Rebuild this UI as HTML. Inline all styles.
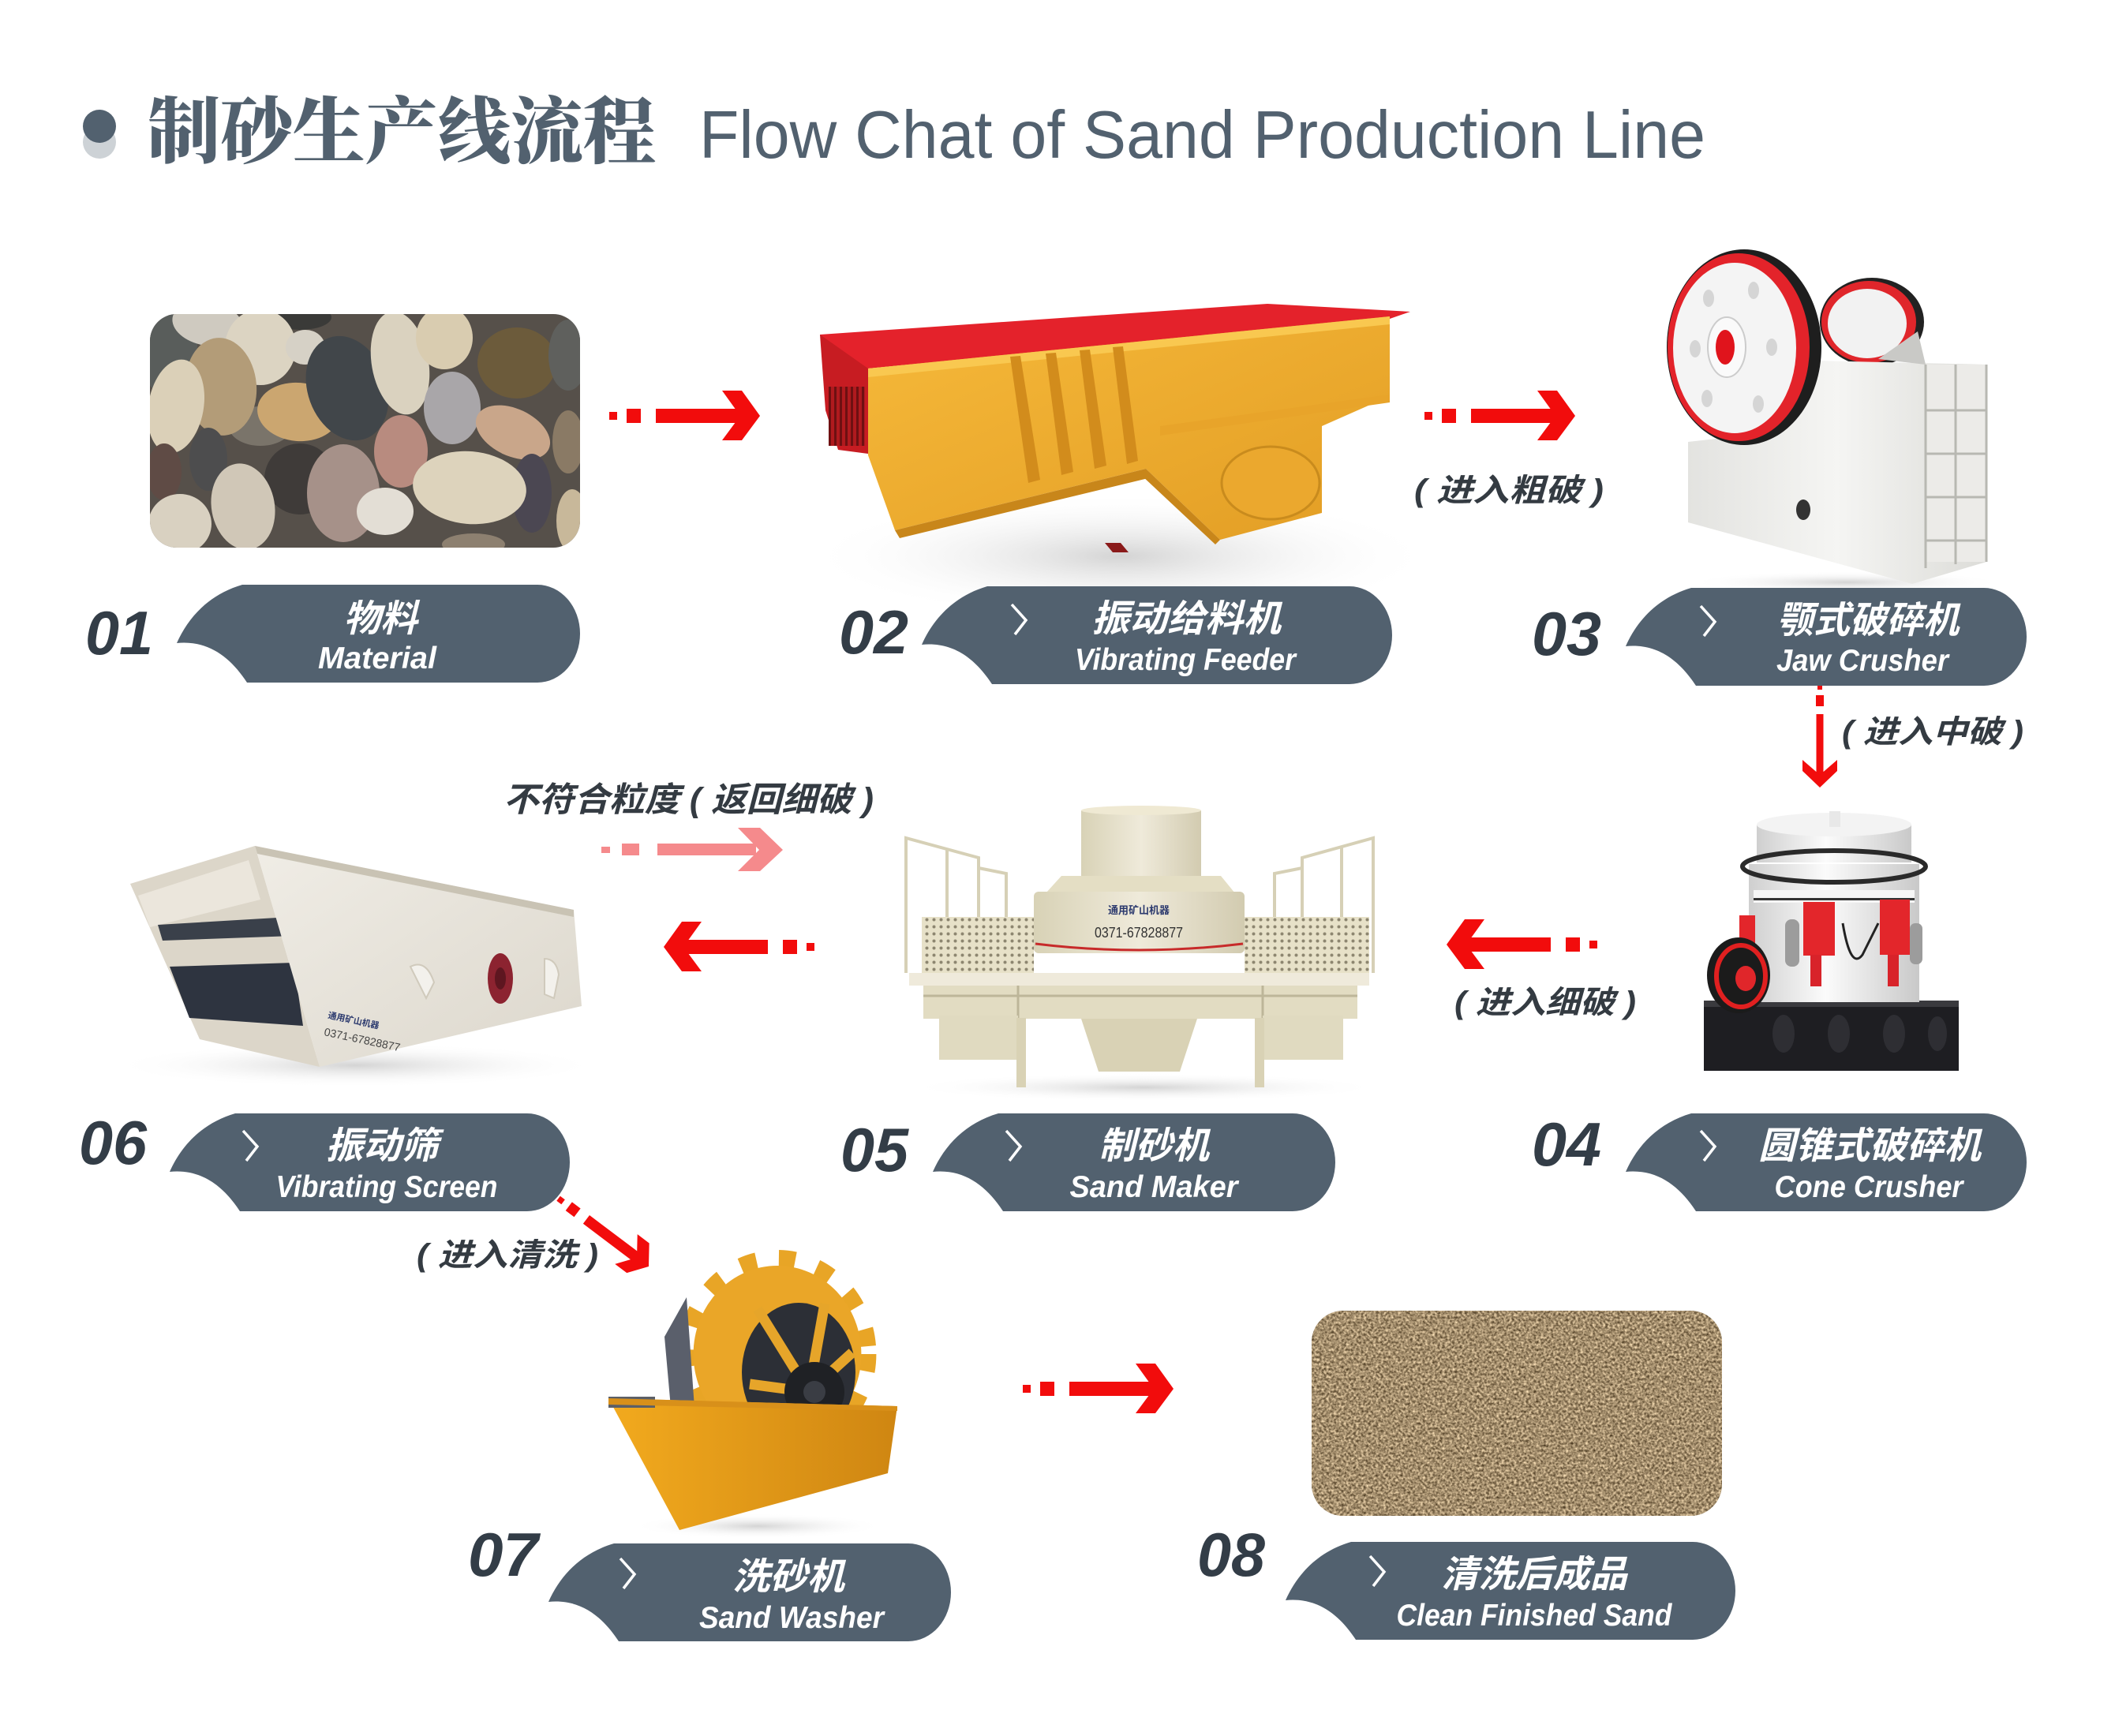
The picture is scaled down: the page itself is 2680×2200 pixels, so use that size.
<!DOCTYPE html>
<html><head><meta charset="utf-8"><title>Flow Chat of Sand Production Line</title>
<style>
html,body{margin:0;padding:0;background:#fff;}
svg{display:block;}
.cn{font-family:"Liberation Sans","Noto Sans CJK SC",sans-serif;}
</style></head>
<body>
<svg xmlns="http://www.w3.org/2000/svg" width="2680" height="2200" viewBox="0 0 2680 2200">
<defs>
  <g id="arR" fill="#f20c0c">
    <rect x="-191" y="-5" width="10" height="10"/>
    <rect x="-169" y="-9" width="18" height="18"/>
    <rect x="-132" y="-9" width="110" height="18"/>
    <polygon points="-48,-32 -23,-32 0,0 -23,31 -48,31 -25,0"/>
  </g>
  <g id="arP" fill="#f58a8c">
    <rect x="-230" y="-4" width="11" height="8"/>
    <rect x="-204" y="-8" width="22" height="15"/>
    <rect x="-159" y="-8" width="125" height="15"/>
    <polygon points="-57,-28 -29,-28 0,0 -29,27 -57,27 -30,0"/>
  </g>
  <clipPath id="cpPeb"><rect x="190" y="398" width="545" height="296" rx="34"/></clipPath>
  <clipPath id="cpSand"><rect x="1662" y="1661" width="520" height="260" rx="40"/></clipPath>
  <filter id="sandf" x="0" y="0" width="100%" height="100%" color-interpolation-filters="sRGB">
    <feTurbulence type="fractalNoise" baseFrequency="0.32" numOctaves="2" seed="7" result="n"/>
    <feColorMatrix in="n" type="matrix" values="1.0 0 0 0 0.14  0.95 0 0 0 0.08  0.85 0 0 0 0.0  0 0 0 0 1"/>
  </filter>
  <linearGradient id="yelG" x1="0" y1="0" x2="1" y2="1">
    <stop offset="0" stop-color="#f6b93a"/><stop offset="1" stop-color="#e29d24"/>
  </linearGradient>
  <linearGradient id="tankG" x1="0" y1="0" x2="1" y2="0">
    <stop offset="0" stop-color="#f2aa1e"/><stop offset="1" stop-color="#cf8612"/>
  </linearGradient>
  <linearGradient id="whiteG" x1="0" y1="0" x2="1" y2="0">
    <stop offset="0" stop-color="#e3e3e0"/><stop offset="0.5" stop-color="#f5f5f3"/><stop offset="1" stop-color="#dcdcd8"/>
  </linearGradient>
  <linearGradient id="coneG" x1="0" y1="0" x2="1" y2="0">
    <stop offset="0" stop-color="#cfcfcf"/><stop offset="0.45" stop-color="#fbfbfb"/><stop offset="1" stop-color="#c9c9c9"/>
  </linearGradient>
  <linearGradient id="creamG" x1="0" y1="0" x2="1" y2="0">
    <stop offset="0" stop-color="#d8d2b6"/><stop offset="0.5" stop-color="#efeada"/><stop offset="1" stop-color="#d2cbb0"/>
  </linearGradient>
  <linearGradient id="plateG" x1="0" y1="0" x2="1" y2="1">
    <stop offset="0" stop-color="#f0ede6"/><stop offset="1" stop-color="#dcd7cc"/>
  </linearGradient>
  <radialGradient id="shG">
    <stop offset="0" stop-color="#cfcfcf" stop-opacity="0.9"/><stop offset="1" stop-color="#ffffff" stop-opacity="0"/>
  </radialGradient>
  <pattern id="mesh" width="9" height="9" patternUnits="userSpaceOnUse">
    <rect width="9" height="9" fill="#e7e1c8"/><circle cx="4.5" cy="4.5" r="2" fill="#8d8670"/>
  </pattern>
  <pattern id="grid" width="7" height="10" patternUnits="userSpaceOnUse">
    <rect width="7" height="10" fill="#b01a1e"/><rect width="3" height="10" fill="#6e1012"/>
  </pattern>
</defs>

<rect width="2680" height="2200" fill="#ffffff"/>

<!-- ============ TITLE ============ -->
<circle cx="126" cy="180" r="21" fill="#cdd2d6"/>
<circle cx="126" cy="160" r="21" fill="#52616f"/>
<text x="187" y="199" font-family="'Noto Serif CJK SC','Noto Serif CJK JP',serif" font-weight="900" font-size="92" fill="#52616f" textLength="644" lengthAdjust="spacingAndGlyphs">制砂生产线流程</text>
<text x="886" y="200" font-family="'Liberation Sans',sans-serif" font-size="85" fill="#52616f" textLength="1275" lengthAdjust="spacingAndGlyphs">Flow Chat of Sand Production Line</text>

<!-- ============ IMAGE 01 PEBBLES ============ -->
<g clip-path="url(#cpPeb)">
  <rect x="190" y="398" width="545" height="296" fill="#56504a"/>
  <ellipse cx="212" cy="440" rx="38" ry="60" fill="#595d5b"/>
  <ellipse cx="263" cy="410" rx="45" ry="28" fill="#cfcac0" transform="rotate(10 263 410)"/>
  <ellipse cx="380" cy="402" rx="40" ry="16" fill="#3a3a38"/>
  <ellipse cx="330" cy="440" rx="45" ry="48" fill="#dcd4c2"/>
  <ellipse cx="387" cy="440" rx="25" ry="22" fill="#d6d1c6"/>
  <ellipse cx="330" cy="540" rx="40" ry="25" fill="#7a746a"/>
  <ellipse cx="280" cy="490" rx="45" ry="62" fill="#b39c78" transform="rotate(-5 280 490)"/>
  <ellipse cx="223" cy="515" rx="35" ry="60" fill="#dbd0b8" transform="rotate(10 223 515)"/>
  <ellipse cx="378" cy="522" rx="52" ry="37" fill="#cba670" transform="rotate(5 378 522)"/>
  <ellipse cx="440" cy="492" rx="50" ry="68" fill="#41464a" transform="rotate(-20 440 492)"/>
  <ellipse cx="507" cy="460" rx="36" ry="66" fill="#dad2bf" transform="rotate(-10 507 460)"/>
  <ellipse cx="563" cy="428" rx="36" ry="40" fill="#d9ccb0"/>
  <ellipse cx="573" cy="517" rx="36" ry="46" fill="#a9a6a9"/>
  <ellipse cx="655" cy="460" rx="50" ry="45" fill="#6c5b3b"/>
  <ellipse cx="720" cy="450" rx="25" ry="45" fill="#5f605d"/>
  <ellipse cx="650" cy="548" rx="50" ry="30" fill="#c9a68a" transform="rotate(25 650 548)"/>
  <ellipse cx="720" cy="560" rx="20" ry="40" fill="#8a7a65"/>
  <ellipse cx="508" cy="572" rx="34" ry="46" fill="#b88b7f"/>
  <ellipse cx="380" cy="607" rx="45" ry="45" fill="#3f3b39"/>
  <ellipse cx="435" cy="625" rx="46" ry="62" fill="#a69189"/>
  <ellipse cx="264" cy="582" rx="24" ry="40" fill="#4d4d4e"/>
  <ellipse cx="208" cy="598" rx="22" ry="36" fill="#5f4b45"/>
  <ellipse cx="228" cy="664" rx="40" ry="38" fill="#d9d1c1"/>
  <ellipse cx="308" cy="642" rx="40" ry="55" fill="#d0c7b7" transform="rotate(-10 308 642)"/>
  <ellipse cx="488" cy="648" rx="36" ry="30" fill="#e3ded5"/>
  <ellipse cx="674" cy="625" rx="25" ry="50" fill="#4b4752"/>
  <ellipse cx="595" cy="618" rx="72" ry="46" fill="#ddd3bc" transform="rotate(5 595 618)"/>
  <ellipse cx="725" cy="660" rx="20" ry="40" fill="#c8b89a"/>
  <ellipse cx="600" cy="690" rx="40" ry="14" fill="#8d8070"/>
</g>

<!-- ============ IMAGE 02 VIBRATING FEEDER ============ -->
<g>
  <ellipse cx="1420" cy="705" rx="400" ry="80" fill="url(#shG)"/>
  <polygon points="1039,424 1606,385 1787,395 1761,404 1100,467 1065,459" fill="#e4222b"/>
  <polygon points="1039,424 1100,467 1100,575 1062,570 1046,520" fill="#c71c22"/>
  <rect x="1050" y="490" width="46" height="75" fill="url(#grid)"/>
  <polygon points="1100,467 1761,401 1761,502 1675,540 1675,650 1546,684 1452,594 1134,672 1100,577" fill="url(#yelG)"/>
  <polygon points="1100,467 1761,401 1761,411 1100,478" fill="#f9c850"/>
  <polygon points="1280,452 1293,451 1318,608 1303,612" fill="#d28c1c"/>
  <polygon points="1325,448 1338,447 1360,598 1345,602" fill="#d28c1c"/>
  <polygon points="1368,444 1381,443 1402,590 1387,594" fill="#d28c1c"/>
  <polygon points="1410,440 1423,439 1442,584 1428,588" fill="#d28c1c"/>
  <polygon points="1134,672 1452,594 1455,606 1140,682" fill="#c8861a"/>
  <polygon points="1452,594 1546,684 1540,690 1446,602" fill="#c8861a"/>
  <polygon points="1470,540 1761,500 1761,510 1470,552" fill="#e8a42a"/>
  <ellipse cx="1610" cy="612" rx="62" ry="46" fill="#eba82e" stroke="#c98b1d" stroke-width="3"/>
  <polygon points="1400,688 1420,688 1430,700 1410,700" fill="#8a1a1a"/>
</g>

<!-- ============ IMAGE 03 JAW CRUSHER ============ -->
<g>
  <ellipse cx="2340" cy="738" rx="200" ry="14" fill="url(#shG)"/>
  <ellipse cx="2372" cy="408" rx="66" ry="56" fill="#222"/>
  <ellipse cx="2368" cy="408" rx="60" ry="52" fill="#e0262b"/>
  <ellipse cx="2366" cy="410" rx="50" ry="44" fill="#f2f2f2"/>
  <polygon points="2250,456 2517,462 2517,712 2423,740 2139,662 2139,560 2245,548" fill="url(#whiteG)"/>
  <rect x="2440" y="462" width="77" height="250" fill="#ecebe8"/>
  <g stroke="#b8b8b2" stroke-width="3">
    <line x1="2440" y1="462" x2="2440" y2="720"/>
    <line x1="2478" y1="462" x2="2478" y2="715"/>
    <line x1="2517" y1="462" x2="2517" y2="712"/>
    <line x1="2440" y1="520" x2="2517" y2="520"/>
    <line x1="2440" y1="575" x2="2517" y2="575"/>
    <line x1="2440" y1="630" x2="2517" y2="630"/>
    <line x1="2440" y1="685" x2="2517" y2="685"/>
  </g>
  <polygon points="2380,455 2430,420 2440,462" fill="#c9c9c6"/>
  <ellipse cx="2285" cy="646" rx="9" ry="13" fill="#333"/>
  <ellipse cx="2210" cy="440" rx="98" ry="124" fill="#1e1e1e"/>
  <ellipse cx="2203" cy="440" rx="90" ry="119" fill="#e3232a"/>
  <ellipse cx="2198" cy="441" rx="78" ry="108" fill="#f4f4f4"/>
  <g fill="#d5d5d5">
    <ellipse cx="2165" cy="378" rx="7" ry="11"/>
    <ellipse cx="2163" cy="505" rx="7" ry="11"/>
    <ellipse cx="2222" cy="368" rx="7" ry="11"/>
    <ellipse cx="2228" cy="512" rx="7" ry="11"/>
    <ellipse cx="2148" cy="442" rx="7" ry="11"/>
    <ellipse cx="2245" cy="440" rx="7" ry="11"/>
  </g>
  <ellipse cx="2188" cy="440" rx="24" ry="38" fill="#fafafa" stroke="#cccccc" stroke-width="2"/>
  <ellipse cx="2186" cy="440" rx="12" ry="22" fill="#e0141c"/>
</g>

<!-- ============ IMAGE 04 CONE CRUSHER ============ -->
<g>
  <rect x="2159" y="1268" width="323" height="89" fill="#1e1e22"/>
  <rect x="2159" y="1268" width="323" height="8" fill="#3a3a3e"/>
  <g fill="#2e2e33">
    <ellipse cx="2260" cy="1310" rx="14" ry="24"/>
    <ellipse cx="2330" cy="1310" rx="14" ry="24"/>
    <ellipse cx="2400" cy="1310" rx="14" ry="24"/>
    <ellipse cx="2455" cy="1310" rx="12" ry="22"/>
  </g>
  <rect x="2216" y="1095" width="216" height="175" fill="url(#coneG)"/>
  <rect x="2226" y="1045" width="196" height="48" fill="url(#coneG)"/>
  <ellipse cx="2324" cy="1045" rx="98" ry="15" fill="#f3f3f3"/>
  <rect x="2318" y="1028" width="14" height="20" fill="#e8e8e8"/>
  <ellipse cx="2324" cy="1098" rx="116" ry="20" fill="none" stroke="#2a2a2a" stroke-width="6"/>
  <rect x="2222" y="1128" width="204" height="16" fill="#f6f6f6"/>
  <rect x="2222" y="1138" width="204" height="3" fill="#333"/>
  <rect x="2285" y="1143" width="40" height="68" fill="#e3262b"/>
  <rect x="2294" y="1210" width="14" height="40" fill="#d8232a"/>
  <rect x="2382" y="1140" width="38" height="70" fill="#e3262b"/>
  <rect x="2392" y="1210" width="14" height="40" fill="#d8232a"/>
  <rect x="2204" y="1160" width="20" height="40" fill="#e3262b"/>
  <rect x="2262" y="1165" width="18" height="60" rx="8" fill="#9c9c9c"/>
  <rect x="2420" y="1170" width="16" height="52" rx="7" fill="#9c9c9c"/>
  <path d="M2335,1170 q10,60 25,40 q10,-20 20,-40" fill="none" stroke="#222" stroke-width="3"/>
  <ellipse cx="2203" cy="1236" rx="40" ry="48" fill="#1b1b1b"/>
  <ellipse cx="2206" cy="1237" rx="31" ry="39" fill="none" stroke="#e02020" stroke-width="6"/>
  <ellipse cx="2212" cy="1240" rx="13" ry="16" fill="#e0262a"/>
</g>

<!-- ============ IMAGE 05 SAND MAKER ============ -->
<g>
  <ellipse cx="1450" cy="1378" rx="300" ry="18" fill="url(#shG)"/>
  <g stroke="#d6d0b6" stroke-width="4" fill="none">
    <polyline points="1148,1233 1148,1062 1240,1087 1240,1233"/>
    <line x1="1200" y1="1075" x2="1200" y2="1233"/>
    <polyline points="1240,1100 1275,1107 1275,1233"/>
    <polyline points="1740,1233 1740,1062 1650,1087 1650,1233"/>
    <line x1="1700" y1="1073" x2="1700" y2="1233"/>
    <polyline points="1650,1100 1615,1107 1615,1233"/>
  </g>
  <rect x="1168" y="1162" width="142" height="73" fill="url(#mesh)"/>
  <rect x="1577" y="1162" width="158" height="73" fill="url(#mesh)"/>
  <rect x="1370" y="1027" width="152" height="83" fill="url(#creamG)"/>
  <ellipse cx="1446" cy="1027" rx="76" ry="6" fill="#efe9d3"/>
  <polygon points="1345,1110 1547,1110 1565,1132 1325,1132" fill="#e4dec4"/>
  <rect x="1310" y="1130" width="267" height="78" rx="6" fill="url(#creamG)"/>
  <path d="M1312,1196 Q1443,1212 1575,1196" fill="none" stroke="#c72a2a" stroke-width="3"/>
  <text x="1443" y="1158" text-anchor="middle" class="cn" font-size="13" font-weight="bold" fill="#2c3a6e">通用矿山机器</text>
  <text x="1443" y="1188" text-anchor="middle" font-family="'Liberation Sans',sans-serif" font-size="18" fill="#333" textLength="112" lengthAdjust="spacingAndGlyphs">0371-67828877</text>
  <rect x="1152" y="1233" width="583" height="16" fill="#efeadb"/>
  <rect x="1170" y="1249" width="550" height="42" fill="#e2dcc2"/>
  <g stroke="#bdb699" stroke-width="3">
    <line x1="1170" y1="1262" x2="1720" y2="1262"/>
    <line x1="1290" y1="1249" x2="1290" y2="1291"/>
    <line x1="1600" y1="1249" x2="1600" y2="1291"/>
  </g>
  <rect x="1190" y="1287" width="100" height="56" fill="#e0dac0"/>
  <rect x="1600" y="1287" width="102" height="56" fill="#e0dac0"/>
  <rect x="1288" y="1290" width="12" height="88" fill="#d9d2b5"/>
  <rect x="1590" y="1290" width="12" height="88" fill="#d9d2b5"/>
  <polygon points="1370,1291 1517,1291 1495,1358 1392,1358" fill="#d9d2b5"/>
</g>

<!-- ============ IMAGE 06 VIBRATING SCREEN ============ -->
<g>
  <ellipse cx="450" cy="1350" rx="310" ry="28" fill="url(#shG)"/>
  <polygon points="165,1120 323,1072 405,1352 253,1317" fill="#dcd6c9"/>
  <polygon points="175,1135 315,1090 330,1140 190,1175" fill="#ebe6dc"/>
  <polygon points="200,1172 368,1162 372,1186 206,1192" fill="#3a404a"/>
  <polygon points="215,1225 372,1220 384,1300 240,1290" fill="#2e3440"/>
  <polygon points="323,1072 727,1153 737,1275 405,1352" fill="url(#plateG)"/>
  <polygon points="323,1072 727,1153 727,1162 326,1082" fill="#c9c3b4"/>
  <ellipse cx="634" cy="1240" rx="16" ry="32" fill="#8c2330"/>
  <ellipse cx="634" cy="1240" rx="7" ry="14" fill="#5e1620"/>
  <path d="M520,1225 q20,-10 30,20 l-10,20 z" fill="#f3f1ec" stroke="#d0cabc" stroke-width="2"/>
  <path d="M690,1215 q15,0 18,20 l-6,30 -12,-5 z" fill="#f3f1ec" stroke="#d0cabc" stroke-width="2"/>
  <text x="415" y="1290" class="cn" font-size="11" font-weight="bold" fill="#2c3a6e" transform="rotate(12 415 1290)">通用矿山机器</text>
  <text x="410" y="1312" font-family="'Liberation Sans',sans-serif" font-size="14" fill="#444" transform="rotate(12 410 1312)">0371-67828877</text>
</g>

<!-- ============ IMAGE 07 SAND WASHER ============ -->
<g transform="translate(0,-6)">
  <ellipse cx="960" cy="1940" rx="160" ry="16" fill="url(#shG)"/>
  <g transform="translate(985,1722) scale(0.95,1)">
    <circle r="121" fill="none" stroke="#e8a526" stroke-width="22" stroke-dasharray="22 30"/>
    <circle r="112" fill="#eaa628"/>
  </g>
  <polygon points="842,1700 870,1650 880,1790 850,1790" fill="#5a5f6b"/>
  <ellipse cx="1012" cy="1745" rx="72" ry="88" fill="#2c2f36"/>
  <g stroke="#e6a52a" stroke-width="13">
    <line x1="1025" y1="1770" x2="960" y2="1665"/>
    <line x1="1025" y1="1770" x2="1045" y2="1658"/>
    <line x1="1025" y1="1770" x2="1080" y2="1720"/>
    <line x1="1025" y1="1770" x2="950" y2="1760"/>
  </g>
  <circle cx="1032" cy="1770" r="38" fill="#1f2125"/>
  <circle cx="1032" cy="1770" r="14" fill="#3a3d44"/>
  <polygon points="771,1778 1137,1788 1125,1873 861,1945" fill="url(#tankG)"/>
  <polygon points="771,1776 830,1776 830,1790 771,1790" fill="#5b5f67"/>
  <polygon points="771,1778 1137,1788 1137,1794 771,1786" fill="#d8901a"/>
</g>

<!-- ============ IMAGE 08 SAND ============ -->
<g clip-path="url(#cpSand)">
  <rect x="1662" y="1661" width="520" height="260" fill="#a88d63"/>
  <rect x="1662" y="1661" width="520" height="260" filter="url(#sandf)"/>
</g>

<!-- ============ ARROWS ============ -->
<use href="#arR" transform="translate(963,527)"/>
<use href="#arR" transform="translate(1996,527)"/>
<use href="#arR" transform="translate(1833,1197) scale(-1,1)"/>
<use href="#arR" transform="translate(841,1200) scale(-1,1)"/>
<use href="#arR" transform="translate(1487,1760)"/>
<use href="#arR" transform="translate(822,1605) rotate(37) scale(0.75)"/>
<use href="#arP" transform="translate(992,1077)"/>
<g fill="#f20c0c">
  <rect x="2303" y="867" width="6" height="7"/>
  <rect x="2301" y="881" width="10" height="14"/>
  <rect x="2301.5" y="905" width="9" height="80"/>
  <polygon points="2284,963 2306,982 2328,963 2328,977 2306,998 2284,977"/>
</g>

<!-- ============ LABELS ============ -->
<g class="cn" fill="#343b42" font-weight="bold" font-style="italic">
  <text x="1792" y="635" font-size="40" textLength="240" lengthAdjust="spacingAndGlyphs">( 进入粗破 )</text>
  <text x="2334" y="941" font-size="40" textLength="230" lengthAdjust="spacingAndGlyphs">( 进入中破 )</text>
  <text x="1843" y="1284" font-size="40" textLength="230" lengthAdjust="spacingAndGlyphs">( 进入细破 )</text>
  <text x="528" y="1604" font-size="40" textLength="230" lengthAdjust="spacingAndGlyphs">( 进入清洗 )</text>
  <text x="638" y="1028" font-size="43" textLength="469" lengthAdjust="spacingAndGlyphs">不符合粒度 ( 返回细破 )</text>
</g>

<!-- ============ TABS ============ -->
<g fill="#52616f">
  <path d="M307,741 L681,741 A54 62 0 0 1 681,865 L313,865 C292,833 264,811 224,815 C239,781 266,753 307,741 Z"/>
  <path d="M1251,743 L1710,743 A54 62 0 0 1 1710,867 L1257,867 C1236,835 1208,813 1168,817 C1183,783 1210,755 1251,743 Z"/>
  <path d="M2143,745 L2514,745 A54 62 0 0 1 2514,869 L2149,869 C2128,837 2100,815 2060,819 C2075,785 2102,757 2143,745 Z"/>
  <path d="M2143,1411 L2514,1411 A54 62 0 0 1 2514,1535 L2149,1535 C2128,1503 2100,1481 2060,1485 C2075,1451 2102,1423 2143,1411 Z"/>
  <path d="M1265,1411 L1638,1411 A54 62 0 0 1 1638,1535 L1271,1535 C1250,1503 1222,1481 1182,1485 C1197,1451 1224,1423 1265,1411 Z"/>
  <path d="M298,1411 L668,1411 A54 62 0 0 1 668,1535 L304,1535 C283,1503 255,1481 215,1485 C230,1451 257,1423 298,1411 Z"/>
  <path d="M778,1956 L1151,1956 A54 62 0 0 1 1151,2080 L784,2080 C763,2048 735,2026 695,2030 C710,1996 737,1968 778,1956 Z"/>
  <path d="M1712,1954 L2145,1954 A54 62 0 0 1 2145,2078 L1718,2078 C1697,2046 1669,2024 1629,2028 C1644,1994 1671,1966 1712,1954 Z"/>
</g>

<!-- chevrons -->
<g fill="none" stroke="#ffffff" stroke-width="3.5" stroke-linejoin="miter">
  <polyline points="1282,766 1300,786 1286,804"/>
  <polyline points="2155,768 2173,788 2159,806"/>
  <polyline points="2155,1433 2173,1453 2159,1471"/>
  <polyline points="1275,1433 1293,1453 1279,1471"/>
  <polyline points="308,1433 326,1453 312,1471"/>
  <polyline points="786,1975 804,1995 790,2013"/>
  <polyline points="1736,1972 1754,1992 1740,2010"/>
</g>

<!-- numbers -->
<g font-family="'Liberation Sans',sans-serif" font-weight="bold" font-style="italic" font-size="78" fill="#333d47">
  <text x="108" y="829" textLength="86" lengthAdjust="spacingAndGlyphs">01</text>
  <text x="1063" y="828" textLength="88" lengthAdjust="spacingAndGlyphs">02</text>
  <text x="1941" y="830" textLength="88" lengthAdjust="spacingAndGlyphs">03</text>
  <text x="1941" y="1477" textLength="88" lengthAdjust="spacingAndGlyphs">04</text>
  <text x="1065" y="1484" textLength="86" lengthAdjust="spacingAndGlyphs">05</text>
  <text x="100" y="1475" textLength="86" lengthAdjust="spacingAndGlyphs">06</text>
  <text x="593" y="1997" textLength="89" lengthAdjust="spacingAndGlyphs">07</text>
  <text x="1517" y="1997" textLength="86" lengthAdjust="spacingAndGlyphs">08</text>
</g>

<!-- tab titles (Chinese) -->
<g class="cn" font-weight="bold" font-style="italic" font-size="47" fill="#ffffff" text-anchor="middle">
  <text x="482" y="800" textLength="94" lengthAdjust="spacingAndGlyphs">物料</text>
  <text x="1503" y="800" textLength="240" lengthAdjust="spacingAndGlyphs">振动给料机</text>
  <text x="2367" y="802" textLength="231" lengthAdjust="spacingAndGlyphs">颚式破碎机</text>
  <text x="2369" y="1468" textLength="282" lengthAdjust="spacingAndGlyphs">圆锥式破碎机</text>
  <text x="1462" y="1468" textLength="140" lengthAdjust="spacingAndGlyphs">制砂机</text>
  <text x="484" y="1468" textLength="143" lengthAdjust="spacingAndGlyphs">振动筛</text>
  <text x="999" y="2014" textLength="142" lengthAdjust="spacingAndGlyphs">洗砂机</text>
  <text x="1944" y="2011" textLength="236" lengthAdjust="spacingAndGlyphs">清洗后成品</text>
</g>

<!-- tab titles (English) -->
<g font-family="'Liberation Sans',sans-serif" font-weight="bold" font-style="italic" font-size="39" fill="#ffffff" text-anchor="middle">
  <text x="478" y="847" textLength="150" lengthAdjust="spacingAndGlyphs">Material</text>
  <text x="1502" y="849" textLength="280" lengthAdjust="spacingAndGlyphs">Vibrating Feeder</text>
  <text x="2360" y="850" textLength="218" lengthAdjust="spacingAndGlyphs">Jaw Crusher</text>
  <text x="2368" y="1517" textLength="239" lengthAdjust="spacingAndGlyphs">Cone Crusher</text>
  <text x="1462" y="1517" textLength="213" lengthAdjust="spacingAndGlyphs">Sand Maker</text>
  <text x="490" y="1517" textLength="281" lengthAdjust="spacingAndGlyphs">Vibrating Screen</text>
  <text x="1003" y="2063" textLength="234" lengthAdjust="spacingAndGlyphs">Sand Washer</text>
  <text x="1944" y="2060" textLength="349" lengthAdjust="spacingAndGlyphs">Clean Finished Sand</text>
</g>
</svg>
</body></html>
